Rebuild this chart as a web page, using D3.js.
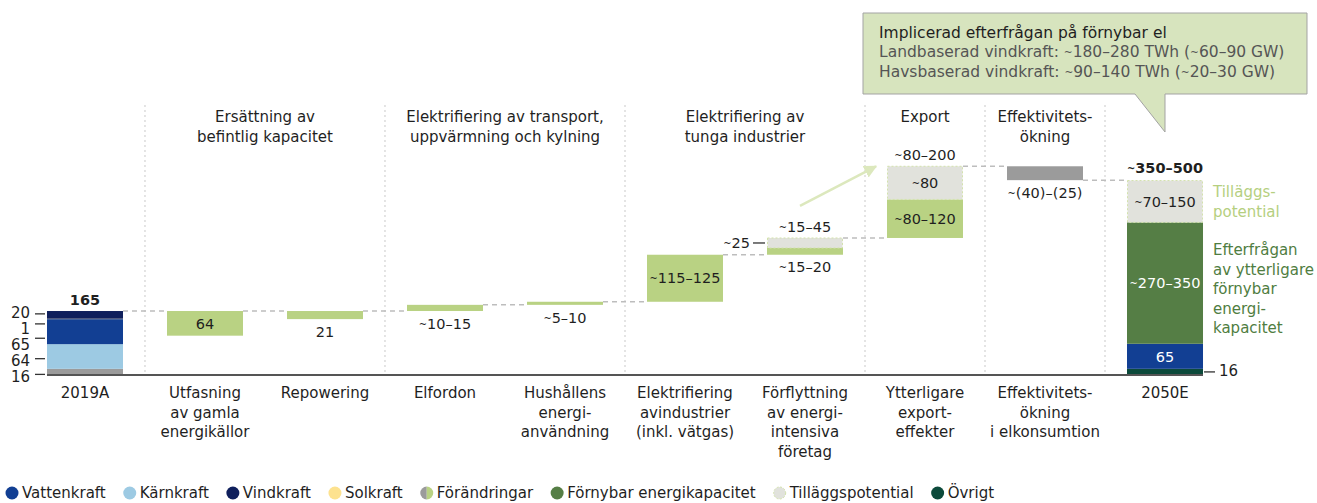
<!DOCTYPE html>
<html>
<head>
<meta charset="utf-8">
<script src="https://cdn.jsdelivr.net/npm/d3@7"></script>
<style>
  body { margin: 0; background: #fff; }
  svg text { font-family: "DejaVu Sans", Inter, sans-serif; fill: #1f1f1f; }
</style>
</head>
<body>
<div id="chart"></div>
<script>
const categories = ["2019A", "Utfasning", "Repowering", "Elfordon", "Hushållen", "Tunga", "Förflyttning", "Export", "Effektivitet", "2050E"];
const categoryLabels = [
  ["2019A"],
  ["Utfasning", "av gamla", "energikällor"],
  ["Repowering"],
  ["Elfordon"],
  ["Hushållens", "energi-", "användning"],
  ["Elektrifiering", "avindustrier", "(inkl. vätgas)"],
  ["Förflyttning", "av energi-", "intensiva", "företag"],
  ["Ytterligare", "export-", "effekter"],
  ["Effektivitets-", "ökning", "i elkonsumtion"],
  ["2050E"]
];
const groupTitles = [
  ["Ersättning av", "befintlig kapacitet"],
  ["Elektrifiering av transport,", "uppvärmning och kylning"],
  ["Elektrifiering av", "tunga industrier"],
  ["Export"],
  ["Effektivitets-", "ökning"]
];
const groupMembers = [["Utfasning", "Repowering"], ["Elfordon", "Hushållen"], ["Tunga", "Förflyttning"], ["Export"], ["Effektivitet"]];

// 2019A, bottom to top
const startKeys = ["Övrigt 2019", "Kärnkraft", "Vattenkraft", "Solkraft", "Vindkraft"];
const startValues = [16, 64, 65, 1, 20];
const startTotal = "165";

// Steps between 2019A and 2050E
const stepTypes = ["ersättning", "ersättning", "ökning", "ökning", "ökning", "ökning", "ökning", "minskning"];
const stepValues = [64, 21, 16, 8, 122, 17.5, 100, 36];
const stepPotential = [0, 0, 0, 0, 0, 26, 86, 0];
const stepLabels = ["64", "21", "~10–15", "~5–10", "~115–125", "~15–20", "~80–120", "~(40)–(25)"];
const potentialLabels = ["", "", "", "", "", "~25", "~80", ""];
const stepTotals = ["", "", "", "", "", "~15–45", "~80–200", ""];

// 2050E, bottom to top
const endKeys = ["Övrigt", "Vattenkraft", "Förnybar energikapacitet", "Tilläggspotential"];
const endValues = [16, 65, 315, 108.5];
const endLabels = ["16", "65", "~270–350", "~70–150"];
const endTotal = "~350–500";
const endNotes = [[], [], ["Efterfrågan", "av ytterligare", "förnybar", "energi-", "kapacitet"], ["Tilläggs-", "potential"]];

const legendNames = ["Vattenkraft", "Kärnkraft", "Vindkraft", "Solkraft", "Förändringar", "Förnybar energikapacitet", "Tilläggspotential", "Övrigt"];
const calloutLines = [
  "Implicerad efterfrågan på förnybar el",
  "Landbaserad vindkraft: ~180–280 TWh (~60–90 GW)",
  "Havsbaserad vindkraft: ~90–140 TWh (~20–30 GW)"
];

const colors = {
  "Övrigt 2019": "#9b9b9b", "Kärnkraft": "#9dcae3", "Vattenkraft": "#123f93", "Solkraft": "#fde28f",
  "Vindkraft": "#0f1f5c", "Förnybar energikapacitet": "#557e45", "Tilläggspotential": "#e1e2dc",
  "Övrigt": "#0c4a3b", "Förändringar": "#b9d283", "minskning": "#9b9b9b"
};
const noteColors = { "Förnybar energikapacitet": "#4f7d41", "Tilläggspotential": "#b5cf80" };

const width = 1317, height = 503;
const svg = d3.select("#chart").append("svg").attr("width", width).attr("height", height);

const x = d3.scaleBand().domain(categories).range([25, 1225]).paddingInner(0.3667).paddingOuter(0.1833);
const y = d3.scaleLinear().domain([0, 550]).range([375, 163]);
const bw = x.bandwidth();
const fs = 14.5;

// Text with a small raised tilde, as in the original typeface
function label(sel, str) {
  str.split(/(~)/).filter(p => p !== "").forEach(p => {
    if (p === "~") sel.append("tspan").attr("font-size", "0.68em").attr("baseline-shift", "1.5").text("~");
    else sel.append("tspan").text(p);
  });
  return sel;
}

// Running levels
let level = d3.sum(startValues);
const steps = categories.slice(1, 9).map((c, i) => {
  const s = { cat: c, type: stepTypes[i], label: stepLabels[i], plabel: potentialLabels[i], total: stepTotals[i] };
  if (s.type === "ersättning") { s.y0 = level; s.y1 = level - stepValues[i]; s.p0 = s.p1 = level; }
  else if (s.type === "minskning") { s.y0 = level; s.y1 = level - stepValues[i]; level = s.y1; s.p0 = s.p1 = level; }
  else { s.y0 = level; s.y1 = level + stepValues[i]; s.p0 = s.y1; s.p1 = s.y1 + stepPotential[i]; level = s.p1; }
  s.after = level;
  return s;
});

// Separators between groups
const boundaries = [categories[0]].concat(groupMembers.map(g => g[g.length - 1]));
boundaries.forEach(b => {
  const i = categories.indexOf(b);
  const sx = (x(categories[i]) + bw + x(categories[i + 1])) / 2;
  svg.append("line").attr("x1", sx).attr("x2", sx).attr("y1", 105).attr("y2", 375)
    .attr("stroke", "#c9c9c9").attr("stroke-dasharray", "2,3");
});

// Group titles
groupMembers.forEach((g, gi) => {
  const i0 = categories.indexOf(g[0]), i1 = categories.indexOf(g[g.length - 1]);
  const left = (x(categories[i0 - 1]) + bw + x(categories[i0])) / 2;
  const right = i1 + 1 < categories.length ? (x(categories[i1]) + bw + x(categories[i1 + 1])) / 2 : x(categories[i1]) + bw;
  groupTitles[gi].forEach((t, li) => {
    svg.append("text").attr("x", (left + right) / 2).attr("y", 117 + li * 19.5).attr("dy", "0.36em")
      .attr("text-anchor", "middle").attr("font-size", 15).text(t);
  });
});

// Connectors
const levels = [d3.sum(startValues)].concat(steps.map(s => s.after));
levels.forEach((lv, i) => {
  svg.append("line").attr("x1", x(categories[i]) + bw).attr("x2", x(categories[i + 1]))
    .attr("y1", y(lv)).attr("y2", y(lv))
    .attr("stroke", "#bdbdbd").attr("stroke-width", 1.5).attr("stroke-dasharray", "5,4");
});

// 2019A stack
let acc = 0;
const startSegs = startValues.map((v, i) => ({ key: startKeys[i], v, y0: acc, y1: (acc += v) }));
svg.selectAll(".s19").data(startSegs).join("rect")
  .attr("x", x("2019A")).attr("width", bw)
  .attr("y", d => y(d.y1)).attr("height", d => y(d.y0) - y(d.y1))
  .attr("fill", d => colors[d.key]);

const mids = startSegs.map(d => (y(d.y0) + y(d.y1)) / 2);
const lpos = mids.slice();
lpos[lpos.length - 1] = mids[mids.length - 1] - 2;
for (let i = lpos.length - 2; i >= 0; i--) lpos[i] = Math.max(mids[i], lpos[i + 1] + 16);
startSegs.forEach((d, i) => {
  const ty = (mids[i] + lpos[i]) / 2;
  svg.append("line").attr("x1", x("2019A") - 12).attr("x2", x("2019A") - 2).attr("y1", ty).attr("y2", ty)
    .attr("stroke", "#333").attr("stroke-width", 1.3);
  svg.append("text").attr("x", x("2019A") - 17).attr("y", lpos[i]).attr("dy", "0.36em")
    .attr("text-anchor", "end").attr("font-size", 15).text(d.v);
});
svg.append("text").attr("x", x("2019A") + bw / 2).attr("y", y(acc) - 11.5).attr("dy", "0.36em")
  .attr("text-anchor", "middle").attr("font-size", fs).attr("font-weight", 700).text(startTotal);

// Steps
steps.forEach(s => {
  const bx = x(s.cat);
  const fill = s.type === "minskning" ? colors.minskning : colors["Förändringar"];
  const top = Math.min(y(s.y0), y(s.y1)), bot = Math.max(y(s.y0), y(s.y1));
  svg.append("rect").attr("x", bx).attr("y", top).attr("width", bw).attr("height", bot - top).attr("fill", fill);
  if (s.p1 > s.p0) {
    svg.append("rect").attr("x", bx + 0.5).attr("y", y(s.p1)).attr("width", bw - 1).attr("height", y(s.p0) - y(s.p1))
      .attr("fill", colors["Tilläggspotential"]).attr("stroke", "#d3e2ad").attr("stroke-dasharray", "2,2");
  }
  // Value label: inside if room, else below
  const inside = bot - top > 20;
  label(svg.append("text").attr("x", bx + bw / 2).attr("y", inside ? (top + bot) / 2 : bot + 12.5).attr("dy", "0.36em")
    .attr("text-anchor", "middle").attr("font-size", fs), s.label);
  if (s.plabel) {
    const pt = y(s.p1), pb = y(s.p0), pm = (pt + pb) / 2;
    if (pb - pt > 20) {
      label(svg.append("text").attr("x", bx + bw / 2).attr("y", pm).attr("dy", "0.36em")
        .attr("text-anchor", "middle").attr("font-size", fs), s.plabel);
    } else {
      svg.append("line").attr("x1", bx - 14).attr("x2", bx - 2).attr("y1", pm).attr("y2", pm)
        .attr("stroke", "#333").attr("stroke-width", 1.3);
      label(svg.append("text").attr("x", bx - 17).attr("y", pm).attr("dy", "0.36em")
        .attr("text-anchor", "end").attr("font-size", fs), s.plabel);
    }
  }
  if (s.total) {
    label(svg.append("text").attr("x", bx + bw / 2).attr("y", y(s.p1) - 11).attr("dy", "0.36em")
      .attr("text-anchor", "middle").attr("font-size", fs), s.total);
  }
});

// 2050E stack
acc = 0;
const endSegs = endValues.map((v, i) => ({ key: endKeys[i], label: endLabels[i], notes: endNotes[i], y0: acc, y1: (acc += v) }));
const ex = x("2050E");
endSegs.forEach(d => {
  const t = y(d.y1), b = y(d.y0), m = (t + b) / 2;
  const pot = d.key === "Tilläggspotential";
  svg.append("rect").attr("x", pot ? ex + 0.5 : ex).attr("y", t).attr("width", pot ? bw - 1 : bw).attr("height", b - t)
    .attr("fill", colors[d.key])
    .attr("stroke", pot ? "#d3e2ad" : "none").attr("stroke-dasharray", pot ? "2,2" : null);
  if (b - t > 20) {
    label(svg.append("text").attr("x", ex + bw / 2).attr("y", m).attr("dy", "0.36em").attr("text-anchor", "middle")
      .attr("font-size", fs).style("fill", pot ? "#1f1f1f" : "#fff"), d.label);
  } else {
    svg.append("line").attr("x1", ex + bw + 1).attr("x2", ex + bw + 12).attr("y1", m).attr("y2", m)
      .attr("stroke", "#333").attr("stroke-width", 1.3);
    svg.append("text").attr("x", ex + bw + 16).attr("y", m - 1).attr("dy", "0.36em").attr("font-size", 15).text(d.label);
  }
  d.notes.forEach((n, li) => {
    svg.append("text").attr("x", ex + bw + 10).attr("y", m + (li - (d.notes.length - 1) / 2) * 19.5 + (pot ? 0 : 6))
      .attr("dy", "0.36em").attr("font-size", 15).style("fill", noteColors[d.key]).text(n);
  });
});
label(svg.append("text").attr("x", ex + bw / 2).attr("y", y(acc) - 13).attr("dy", "0.36em")
  .attr("text-anchor", "middle").attr("font-size", fs).attr("font-weight", 700), endTotal);

// Baseline
svg.append("line").attr("x1", x("2019A")).attr("x2", ex + bw).attr("y1", 375).attr("y2", 375)
  .attr("stroke", "#555").attr("stroke-width", 2);

// Category labels
categories.forEach((c, i) => {
  categoryLabels[i].forEach((t, li) => {
    svg.append("text").attr("x", x(c) + bw / 2).attr("y", 393 + li * 19.5).attr("dy", "0.36em")
      .attr("text-anchor", "middle").attr("font-size", 15).text(t);
  });
});

// Arrow towards export
const fs6 = steps.find(s => s.cat === "Förflyttning"), fs7 = steps.find(s => s.cat === "Export");
svg.append("defs").append("marker").attr("id", "head").attr("viewBox", "0 0 10 10")
  .attr("refX", 9).attr("refY", 5).attr("markerWidth", 13).attr("markerHeight", 13)
  .attr("markerUnits", "userSpaceOnUse").attr("orient", "auto")
  .append("path").attr("d", "M0,0L10,5L0,10Z").attr("fill", "#dce8bd");
svg.append("line")
  .attr("x1", x("Förflyttning") + bw / 2 - 5).attr("y1", y(fs6.p1) - 32)
  .attr("x2", x("Export") - 11).attr("y2", y(fs7.p1))
  .attr("stroke", "#dce8bd").attr("stroke-width", 2.5).attr("marker-end", "url(#head)");

// Callout
const tipX = ex + bw / 2;
svg.append("path")
  .attr("d", `M863,13H1307V94H${tipX}V132L${tipX - 30},94H863Z`)
  .attr("fill", "#d7e4be").attr("stroke", "#a3a3a3").attr("stroke-width", 1);
calloutLines.forEach((t, i) => {
  label(svg.append("text").attr("x", 879).attr("y", 37.5 + i * 19.5).attr("font-size", 15.5)
    .style("fill", i === 0 ? "#1f1f1f" : "#555"), t);
});

// Legend
let lx = 12;
const ly = 493;
legendNames.forEach(n => {
  if (n === "Förändringar") {
    svg.append("path").attr("d", d3.arc()({ innerRadius: 0, outerRadius: 6.5, startAngle: Math.PI, endAngle: 2 * Math.PI }))
      .attr("transform", `translate(${lx},${ly})`).attr("fill", "#9b9b9b");
    svg.append("path").attr("d", d3.arc()({ innerRadius: 0, outerRadius: 6.5, startAngle: 0, endAngle: Math.PI }))
      .attr("transform", `translate(${lx},${ly})`).attr("fill", colors["Förändringar"]);
  } else if (n === "Tilläggspotential") {
    svg.append("circle").attr("cx", lx).attr("cy", ly).attr("r", 6).attr("fill", colors[n])
      .attr("stroke", "#d3e2ad").attr("stroke-dasharray", "2,1.5");
  } else {
    svg.append("circle").attr("cx", lx).attr("cy", ly).attr("r", 6.5).attr("fill", colors[n]);
  }
  const t = svg.append("text").attr("x", lx + 10).attr("y", ly).attr("dy", "0.36em").attr("font-size", 15).text(n);
  lx += 10 + t.node().getComputedTextLength() + 24;
});
</script>
</body>
</html>
